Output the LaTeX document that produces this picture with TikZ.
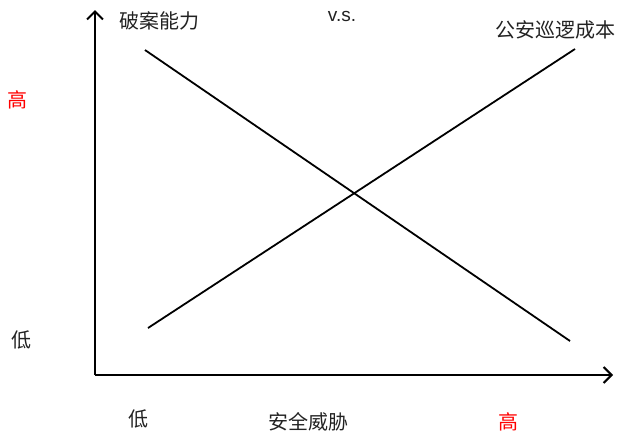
\documentclass[tikz,border=0pt]{standalone}
\usepackage{fontspec}
\setmainfont{Liberation Sans}
\newfontfamily\cjk{Noto Sans CJK SC}
\usetikzlibrary{arrows.meta}
\definecolor{txt}{HTML}{222222}
\begin{document}
\begin{tikzpicture}[x=1pt,y=-1pt,
  lbl/.style={font=\cjk\fontsize{20}{22}\selectfont, text=txt, inner sep=0pt},
  hi/.style={lbl, text=red},
  axisline/.style={line width=2.2pt, -{Straight Barb[length=8pt,width=16pt,line width=2pt]}},
  trend/.style={line width=1.8pt}]
\useasboundingbox (0,0) rectangle (618,437);
\coordinate (o) at (95,375);
\coordinate (ytop) at (95,10);
\coordinate (xend) at (613,375);
\draw[axisline] (o) -- (ytop);
\draw[axisline] (o) -- (xend);
\coordinate (a1) at (145,50);
\coordinate (a2) at (570,341);
\coordinate (b1) at (148,328);
\coordinate (b2) at (575,49);
\draw[trend] (a1) -- (a2);
\draw[trend] (b1) -- (b2);
\node[lbl] (t1) at (159,21) {破案能力};
\node[lbl] (t2) at (555,30) {公安巡逻成本};
\node[font=\fontsize{19}{21}\selectfont, text=txt, inner sep=0pt] (vs) at (342,16) {v.s.};
\node[hi] (yh) at (17,100) {高};
\node[lbl] (yl) at (22,340) {低};
\node[lbl] (xl) at (138,419) {低};
\node[lbl] (xt) at (308,422) {安全威胁};
\node[hi] (xh) at (508,422) {高};
\end{tikzpicture}
\end{document}
